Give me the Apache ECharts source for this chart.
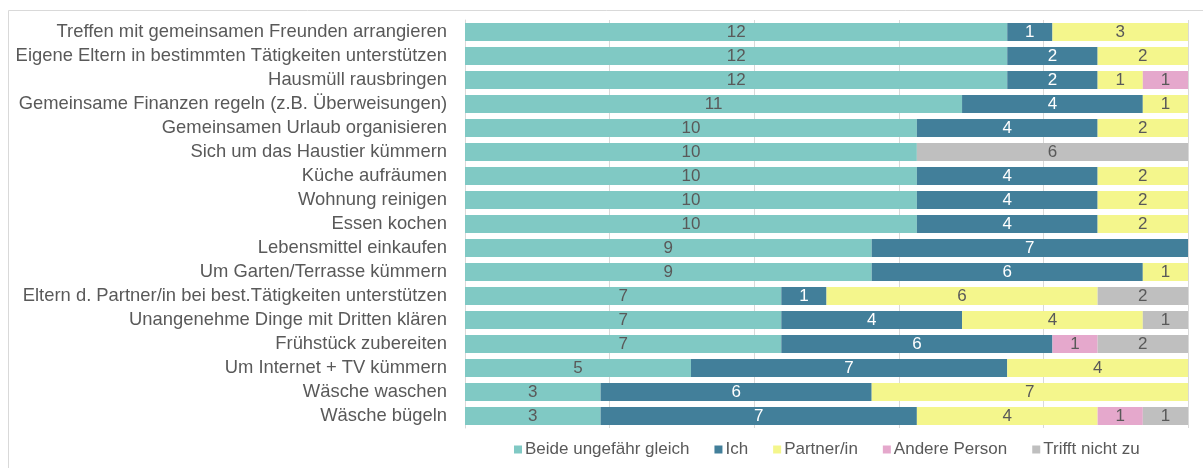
<!DOCTYPE html>
<html>
<head>
<meta charset="utf-8">
<script src="https://cdn.jsdelivr.net/npm/echarts@6/dist/echarts.min.js"></script>
<style>
html,body{margin:0;padding:0;background:#fff;}
#chart{width:1203px;height:468px;}
</style>
</head>
<body>
<div id="chart"></div>
<script>
const categories = [
  "Treffen mit gemeinsamen Freunden arrangieren",
  "Eigene Eltern in bestimmten Tätigkeiten unterstützen",
  "Hausmüll rausbringen",
  "Gemeinsame Finanzen regeln (z.B. Überweisungen)",
  "Gemeinsamen Urlaub organisieren",
  "Sich um das Haustier kümmern",
  "Küche aufräumen",
  "Wohnung reinigen",
  "Essen kochen",
  "Lebensmittel einkaufen",
  "Um Garten/Terrasse kümmern",
  "Eltern d. Partner/in bei best.Tätigkeiten unterstützen",
  "Unangenehme Dinge mit Dritten klären",
  "Frühstück zubereiten",
  "Um Internet + TV kümmern",
  "Wäsche waschen",
  "Wäsche bügeln"
];
const seriesNames = ["Beide ungefähr gleich", "Ich", "Partner/in", "Andere Person", "Trifft nicht zu"];
const beide   = [12,12,12,11,10,10,10,10,10, 9, 9, 7, 7, 7, 5, 3, 3];
const ich     = [ 1, 2, 2, 4, 4, 0, 4, 4, 4, 7, 6, 1, 4, 6, 7, 6, 7];
const partner = [ 3, 2, 1, 1, 2, 0, 2, 2, 2, 0, 1, 6, 4, 0, 4, 7, 4];
const andere  = [ 0, 0, 1, 0, 0, 0, 0, 0, 0, 0, 0, 0, 0, 1, 0, 0, 1];
const trifft  = [ 0, 0, 0, 0, 0, 6, 0, 0, 0, 0, 0, 2, 1, 2, 0, 0, 1];

const colors = ["#80C9C4", "#427F9A", "#F4F68C", "#E5A8CC", "#BFBFBF"];
const labelColors = ["#595959", "#FFFFFF", "#595959", "#595959", "#595959"];
const allData = [beide, ich, partner, andere, trifft];

const totals = categories.map((c, i) => allData.reduce((s, arr) => s + arr[i], 0));
const maxTotal = Math.max(...totals);

const FONT = 'Liberation Sans, Arial, sans-serif';
const chart = echarts.init(document.getElementById('chart'), null, {renderer: 'canvas'});
const series = seriesNames.map((name, si) => ({
  name: name,
  type: 'bar',
  stack: 'total',
  barCategoryGap: '25%',
  itemStyle: {color: colors[si]},
  label: {
    show: true,
    position: 'inside',
    color: labelColors[si],
    fontSize: 17,
    fontFamily: FONT,
    formatter: p => (p.value ? String(p.value) : '')
  },
  data: allData[si].map(v => (v === 0 ? null : v))
}));

chart.setOption({
  animation: false,
  textStyle: {fontFamily: FONT},
  graphic: [{
    type: 'rect',
    shape: {x: 8.5, y: 10.5, width: 1200, height: 470},
    style: {fill: 'none', stroke: '#D9D9D9', lineWidth: 1},
    silent: true
  }],
  grid: {left: 465, right: 15, top: 20, bottom: 40, containLabel: false},
  legend: {
    data: seriesNames,
    left: 509,
    top: 436,
    itemWidth: 8,
    itemHeight: 8,
    itemGap: 25,
    icon: 'rect',
    textStyle: {color: '#595959', fontSize: 17, padding: [0, 0, 0, -2]}
  },
  xAxis: {
    type: 'value',
    min: 0,
    max: maxTotal,
    interval: maxTotal / 5,
    axisLabel: {show: false},
    axisLine: {show: false},
    axisTick: {show: false},
    splitLine: {show: true, lineStyle: {color: '#D9D9D9', width: 1}}
  },
  yAxis: {
    type: 'category',
    inverse: true,
    data: categories,
    axisTick: {show: false},
    axisLine: {show: true, lineStyle: {color: '#D9D9D9'}},
    axisLabel: {color: '#595959', fontSize: 18.4, margin: 18}
  },
  series: series
});
</script>
</body>
</html>
